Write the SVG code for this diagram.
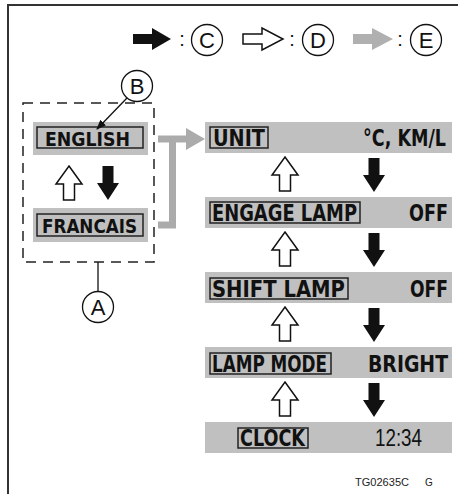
<svg xmlns="http://www.w3.org/2000/svg" width="458" height="494" viewBox="0 0 458 494">
<style>
.bar{fill:#c0c0c0;stroke:none}
.box{fill:none;stroke:#222;stroke-width:1.5}
.t{font-family:"DejaVu Sans","Liberation Sans",sans-serif;font-weight:bold;font-size:22.5px;fill:#111;font-stretch:condensed}
.tl{font-family:"DejaVu Sans","Liberation Sans",sans-serif;font-weight:bold;font-size:19.5px;fill:#111;font-stretch:condensed}
.v{font-family:"Liberation Sans",sans-serif;font-size:23px;fill:#111}
.c{fill:#fff;stroke:#111;stroke-width:1.3}
.cl{font-family:"Liberation Sans",sans-serif;font-size:22px;fill:#111;text-anchor:middle}
.col{font-family:"Liberation Sans",sans-serif;font-size:20px;fill:#111;text-anchor:middle}
.g{fill:#ababab;stroke:none}
</style>
<defs>
<path id="up" d="M0,0 L13,18 L5.5,18 L5.5,34 L-5.5,34 L-5.5,18 L-13,18 Z" fill="#fff" stroke="#111" stroke-width="1.5" stroke-linejoin="miter"/>
<path id="dn" d="M-5.5,0 L5.5,0 L5.5,17 L11,17 L0,34 L-11,17 L-5.5,17 Z" fill="#111"/>
<marker id="ah" markerWidth="10" markerHeight="8" refX="9" refY="4" orient="auto" markerUnits="userSpaceOnUse"><path d="M0,0 L10,4 L0,8 Z" fill="#111"/></marker>
</defs>
<rect width="458" height="494" fill="#fff"/>
<path d="M8,494 L8,5 L458,5" fill="none" stroke="#333" stroke-width="2"/>

<g id="legend">
<path d="M133,34 L152,34 L152,28 L171,39 L152,50 L152,44 L133,44 Z" fill="#111"/>
<text class="col" x="182" y="46">:</text>
<circle class="c" cx="207" cy="40" r="15.5"/><text class="cl" x="207" y="48">C</text>
<path d="M243,34 L262,34 L262,28 L283,39 L262,50 L262,44 L243,44 Z" fill="#fff" stroke="#111" stroke-width="1.5"/>
<text class="col" x="292" y="46">:</text>
<circle class="c" cx="318" cy="40" r="15.5"/><text class="cl" x="318" y="48">D</text>
<path d="M353,34 L372,34 L372,28 L393,39 L372,50 L372,44 L353,44 Z" fill="#b0b0b0"/>
<text class="col" x="400" y="46">:</text>
<circle class="c" cx="426" cy="40" r="15.5"/><text class="cl" x="426" y="48">E</text>
</g>

<g id="groupA">
<rect x="23" y="103" width="131" height="159" fill="none" stroke="#222" stroke-width="1.5" stroke-dasharray="10 7"/>
</g>

<g id="english">
<rect class="bar" x="33" y="122" width="115" height="33"/>
<rect class="box" x="37" y="127" width="106" height="21"/>
<text class="tl" x="45" y="146" textLength="85" lengthAdjust="spacingAndGlyphs">ENGLISH</text>
</g>
<g id="francais">
<rect class="bar" x="33" y="208" width="115" height="34"/>
<rect class="box" x="37" y="214" width="106" height="22"/>
<text class="tl" x="42" y="233" textLength="95" lengthAdjust="spacingAndGlyphs">FRANCAIS</text>
</g>

<g id="unit">
<rect class="bar" x="205" y="122" width="247" height="31"/>
<rect class="box" x="210" y="127" width="58" height="21"/>
<text class="t" x="213" y="146" textLength="52" lengthAdjust="spacingAndGlyphs">UNIT</text>
<text class="t" x="363" y="146" textLength="83" lengthAdjust="spacingAndGlyphs">°C, KM/L</text>
</g>
<g id="engage">
<rect class="bar" x="205" y="197" width="247" height="31"/>
<rect class="box" x="210" y="202" width="150" height="21"/>
<text class="t" x="212" y="221" textLength="145" lengthAdjust="spacingAndGlyphs">ENGAGE LAMP</text>
<text class="t" x="409" y="221" textLength="39" lengthAdjust="spacingAndGlyphs">OFF</text>
</g>
<g id="shift">
<rect class="bar" x="205" y="272" width="247" height="31"/>
<rect class="box" x="210" y="278" width="138" height="21"/>
<text class="t" x="212" y="297" textLength="133" lengthAdjust="spacingAndGlyphs">SHIFT LAMP</text>
<text class="t" x="410" y="297" textLength="38" lengthAdjust="spacingAndGlyphs">OFF</text>
</g>
<g id="lampmode">
<rect class="bar" x="205" y="347" width="247" height="31"/>
<rect class="box" x="210" y="353" width="121" height="21"/>
<text class="t" x="212" y="372" textLength="115" lengthAdjust="spacingAndGlyphs">LAMP MODE</text>
<text class="t" x="368" y="372" textLength="80" lengthAdjust="spacingAndGlyphs">BRIGHT</text>
</g>
<g id="clock">
<rect class="bar" x="205" y="422" width="247" height="31"/>
<rect class="box" x="238" y="428" width="70" height="20"/>
<text class="t" x="240" y="446" textLength="65" lengthAdjust="spacingAndGlyphs">CLOCK</text>
<text class="v" x="375" y="446" textLength="47" lengthAdjust="spacingAndGlyphs">12:34</text>
</g>

<g id="labelB">
<circle class="c" cx="137" cy="86" r="15.5"/><text class="cl" x="137" y="94">B</text>
</g>
<g id="labelA">
<circle class="c" cx="98" cy="307" r="15.5"/><text class="cl" x="98" y="315">A</text>
</g>

<g id="connectors">
<line x1="127" y1="98" x2="97" y2="129" stroke="#111" stroke-width="1.3" marker-end="url(#ah)"/>
<line x1="98" y1="262" x2="98" y2="291.5" stroke="#111" stroke-width="1.3"/>
<use href="#up" x="69" y="166"/>
<use href="#dn" x="108" y="166"/>
<path class="g" d="M158,135.5 L186,135.5 L186,128 L205,139 L186,150 L186,142.5 L176,142.5 L176,228.5 L158,228.5 L158,221.5 L169,221.5 L169,142.5 L158,142.5 Z"/>
<use href="#up" x="285" y="157"/>
<use href="#dn" x="374" y="158"/>
<use href="#up" x="285" y="232"/>
<use href="#dn" x="374" y="233"/>
<use href="#up" x="285" y="307"/>
<use href="#dn" x="374" y="308"/>
<use href="#up" x="285" y="382"/>
<use href="#dn" x="374" y="383"/>
</g>

<text x="355" y="486" font-family="Liberation Sans, sans-serif" font-size="10" fill="#222" textLength="54" lengthAdjust="spacingAndGlyphs">TG02635C</text>
<text x="425" y="486" font-family="Liberation Sans, sans-serif" font-size="10" fill="#222">G</text>
</svg>
